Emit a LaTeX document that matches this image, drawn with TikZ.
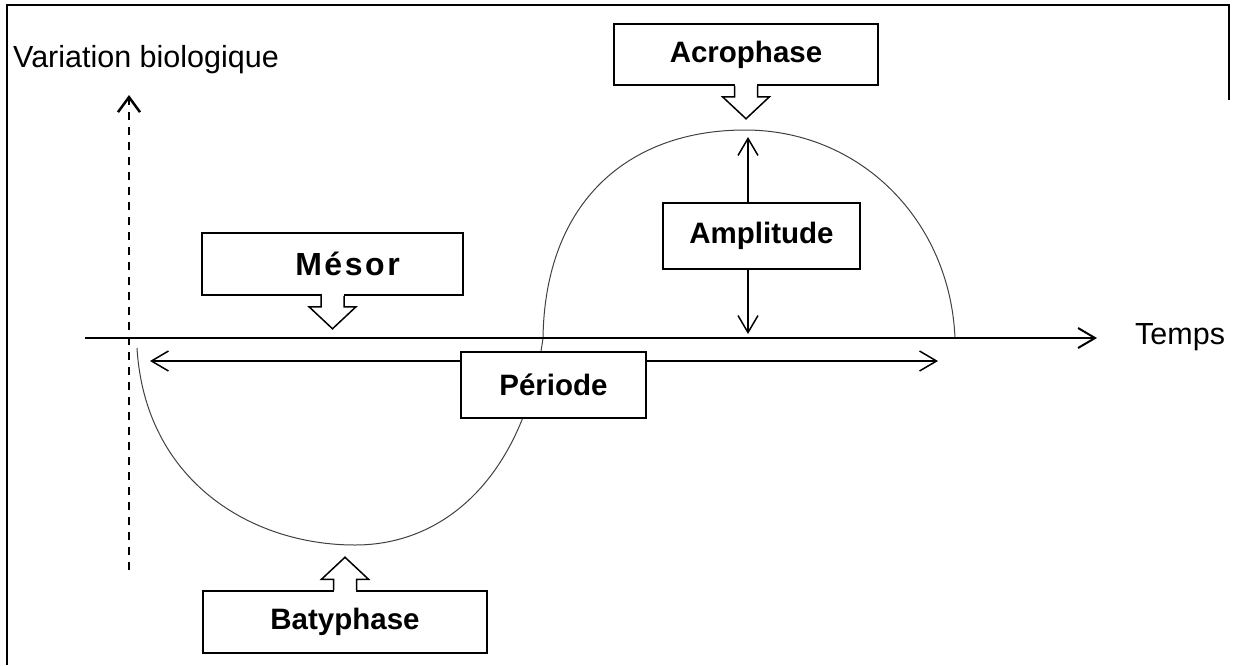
\documentclass[tikz,border=0pt]{standalone}
\usepackage{fontspec}
\setmainfont{Liberation Sans}
\usetikzlibrary{arrows.meta}

\tikzset{
  blockdown/.pic={
    \fill[white] (-11,-2) rectangle (11,1);
    \draw[line width=1.5pt, fill=white] (-11.5,0) -- (-11.5,11) -- (-23.5,11) -- (0,33) -- (23.5,11) -- (11.5,11) -- (11.5,0);
  }
}

\begin{document}
\begin{tikzpicture}[x=1pt, y=-1pt,
  box/.style={draw, line width=1.5pt, fill=white, inner sep=0pt, font=\fontsize{29.5}{34}\selectfont\bfseries},
  axislabel/.style={font=\fontsize{30.5}{36}\selectfont, inner sep=0pt, anchor=base west},
  >={Straight Barb[length=17pt,width=20pt]}]
	\useasboundingbox (0,0) rectangle (1234,665);
	\draw[line width=1.5pt] (1229,100) -- (1229,5) -- (7,5) -- (7,665);

	\node[axislabel] (V) at (13,67) {Variation biologique};
	\node[axislabel] (T) at (1135,344) {Temps};

	\coordinate (O) at (85,338);
	\coordinate (X) at (1097,338);
	\coordinate (Yb) at (129,570);
	\coordinate (Yt) at (129,95);
	\coordinate (PL) at (150,361);
	\coordinate (PR) at (938,361);
	\coordinate (Atop) at (748,137);
	\coordinate (Abot) at (748,334);

	% courbe
	\draw[line width=1pt, black!75] (137,348) .. controls (145,480) and (250,545) .. (355,545)
		.. controls (450,545) and (525,470) .. (543,338)
		.. controls (545,200) and (630,130) .. (745,130)
		.. controls (860,130) and (950,220) .. (955,338);

	\draw[->, line width=2pt] (O) -- (X);
	\draw[-{Straight Barb[length=15pt,width=22pt]}, line width=2.5pt, dash pattern=on 8pt off 7pt] (Yb) -- (Yt);
	\draw[<->, line width=1.5pt] (PL) -- (PR);

	\node[box, minimum width=264pt, minimum height=61pt] (A) at (746,54.5) {Acrophase};
	\node[box, minimum width=261pt, minimum height=62pt] (M) at (332.5,264) {\hspace*{30pt}\fontsize{32}{36}\selectfont\addfontfeature{LetterSpace=8}Mésor};
	\node[box, minimum width=197pt, minimum height=66pt] (Amp) at (761.5,236) {Amplitude};
	\node[box, minimum width=185pt, minimum height=66pt] (P) at (553.5,385) {Période};
	\node[box, minimum width=284pt, minimum height=62pt] (B) at (345,622) {Batyphase};

	\pic at (A.south) {blockdown};
	\pic at (M.south) {blockdown};
	\pic[yscale=-1] at (B.north) {blockdown};

	\draw[->, line width=1.5pt] (Amp.north -| Atop) -- (Atop);
	\draw[->, line width=1.5pt] (Amp.south -| Abot) -- (Abot);
\end{tikzpicture}
\end{document}
